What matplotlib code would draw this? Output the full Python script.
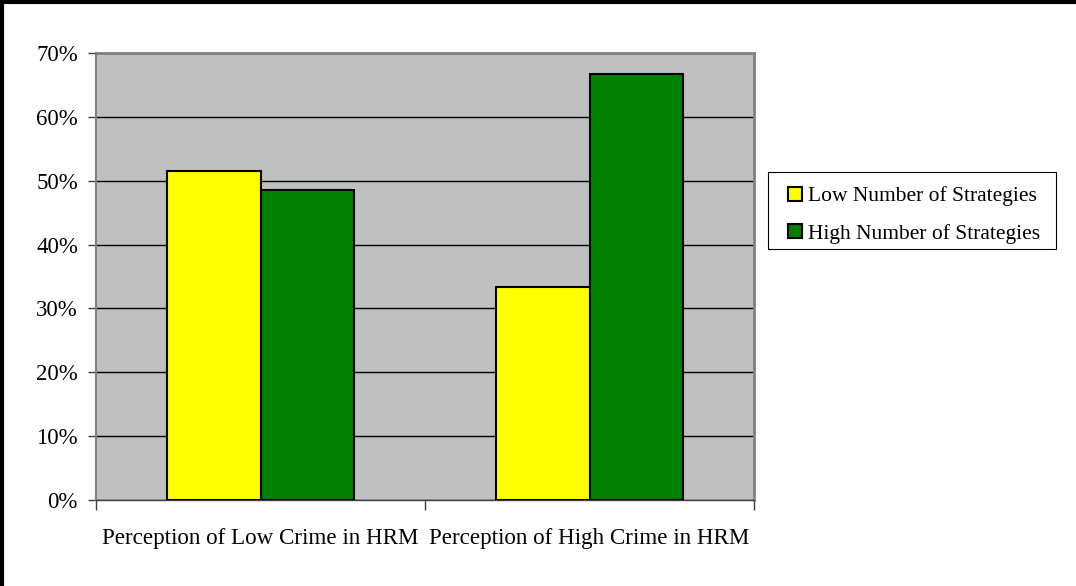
import matplotlib.pyplot as plt
import numpy as np
from matplotlib.lines import Line2D
from matplotlib.patches import Rectangle
from matplotlib.ticker import PercentFormatter

# data
categories = ["Perception of Low Crime in HRM", "Perception of High Crime in HRM"]
low_strat = [51.5, 33.3]
high_strat = [48.5, 66.7]
series_names = ["Low Number of Strategies", "High Number of Strategies"]
yticks = [0, 10, 20, 30, 40, 50, 60, 70]

plt.rcParams['font.family'] = ['Liberation Serif', 'DejaVu Serif']

fig = plt.figure(figsize=(10.76, 5.86), dpi=100)
W, H = 1076, 586
# plot area in pixels: x 96..754, y 53..500
ax = fig.add_axes([96 / W, 1 - 500 / H, 658 / W, 447 / H])
ax.set_facecolor('#C0C0C0')

x = np.arange(len(categories))
bw = 0.2857
ax.bar(x - bw / 2, low_strat, bw, color='#FFFF00', edgecolor='black', linewidth=1.5,
       label=series_names[0], zorder=3)
ax.bar(x + bw / 2, high_strat, bw, color='#008000', edgecolor='black', linewidth=1.5,
       label=series_names[1], zorder=3)

ax.set_xlim(-0.5, 1.5)
ax.set_ylim(0, 70)
ax.set_yticks(yticks)
ax.yaxis.set_major_formatter(PercentFormatter(decimals=0))
ax.grid(axis='y', color='black', linewidth=1, zorder=1)

# category ticks sit between the groups, labels centred under them
ax.set_xticks([-0.5, 0.5, 1.5])
ax.set_xticklabels([])
ax.set_xticks(x, minor=True)
ax.set_xticklabels(categories, minor=True, fontsize=16.6)
ax.tick_params(axis='x', which='minor', length=0, pad=20)
ax.tick_params(axis='x', which='major', length=7, width=1, color='#404040', direction='out')
ax.tick_params(axis='y', length=6, width=1, color='#404040', labelsize=16.5, pad=7)

for side in ['top', 'right']:
    ax.spines[side].set_color('#808080')
    ax.spines[side].set_linewidth(2)
ax.spines['left'].set_color('#808080')
ax.spines['left'].set_linewidth(1.5)
ax.spines['bottom'].set_color('#404040')
ax.spines['bottom'].set_linewidth(1)

# legend box drawn by hand, entries placed inside it
fig.add_artist(Rectangle((768 / W, 1 - 249 / H), 288 / W, 77 / H, transform=fig.transFigure,
                         facecolor='white', edgecolor='black', linewidth=0.8))
handles = [Line2D([], [], marker='s', linestyle='none', markersize=10.5,
                  markerfacecolor=c, markeredgecolor='black', markeredgewidth=1.5)
           for c in ['#FFFF00', '#008000']]
leg = fig.legend(handles, series_names, loc='upper left',
                 bbox_to_anchor=(784 / W, 1 - 186 / H), fontsize=15.5,
                 frameon=False, handlelength=1.0, handletextpad=0.12,
                 borderpad=0, labelspacing=0.81, borderaxespad=0)

# outer chart border (top and left visible)
fig.add_artist(Line2D([0, 1], [1 - 1.5 / H, 1 - 1.5 / H], color='black', linewidth=3,
                      transform=fig.transFigure))
fig.add_artist(Line2D([1.5 / W, 1.5 / W], [0, 1], color='black', linewidth=3,
                      transform=fig.transFigure))

fig.savefig('out.png', dpi=100, facecolor='white')
